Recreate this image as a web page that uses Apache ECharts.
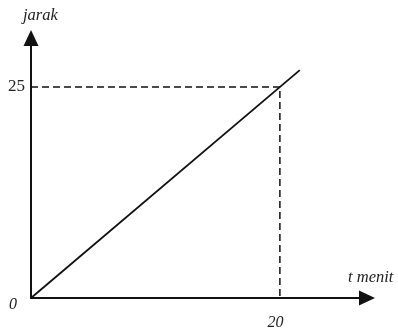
<!DOCTYPE html>
<html>
<head>
<meta charset="utf-8">
<script src="https://cdn.jsdelivr.net/npm/echarts@6/dist/echarts.min.js"></script>
<style>
  html, body { margin: 0; padding: 0; background: #fff; }
  #main { width: 398px; height: 331px; }
</style>
</head>
<body>
<div id="main"></div>
<script>
  // jarak vs waktu (t menit)
  var lineData = [[0, 0], [21.6, 27]];
  var guideData = [[0, 25], [20, 25], [20, 0]];
  var xTicks = [20];
  var yTicks = [0, 25];

  var myChart = echarts.init(document.getElementById('main'));
  var font = '"Liberation Serif", "DejaVu Serif", serif';

  var option = {
    animation: false,
    grid: { left: 31, right: 31, top: 38, bottom: 33 },
    xAxis: {
      type: 'value',
      min: 0,
      max: 27.0,
      name: 't menit',
      nameLocation: 'end',
      nameGap: -19,
      nameTextStyle: {
        fontFamily: font, fontStyle: 'italic', fontSize: 16.5, color: '#222',
        align: 'left', verticalAlign: 'bottom', padding: [0, 0, 12, 0]
      },
      splitLine: { show: false },
      axisTick: { show: false },
      axisLine: {
        symbol: ['none', 'triangle'],
        symbolSize: [15, 16],
        lineStyle: { color: '#111', width: 2 }
      },
      axisLabel: {
        customValues: xTicks,
        margin: 17,
        fontFamily: font, fontStyle: 'italic', fontSize: 16, color: '#222',
        padding: [0, 9, 0, 0]
      }
    },
    yAxis: {
      type: 'value',
      min: 0,
      max: 30.8,
      name: 'jarak',
      nameLocation: 'end',
      nameGap: 14,
      nameTextStyle: {
        fontFamily: font, fontStyle: 'italic', fontSize: 16.5, color: '#222',
        align: 'left', padding: [0, 0, 0, -8]
      },
      splitLine: { show: false },
      axisTick: { show: false },
      axisLine: {
        symbol: ['none', 'triangle'],
        symbolSize: [15, 16],
        lineStyle: { color: '#111', width: 2 }
      },
      axisLabel: {
        customValues: yTicks,
        margin: 6,
        fontFamily: font, fontSize: 17, color: '#222',
        formatter: function (v) {
          return v === 0 ? '{z|0}' : String(v);
        },
        rich: {
          z: { fontFamily: font, fontStyle: 'italic', fontSize: 16, color: '#222', padding: [14, 8, 0, 0] }
        }
      }
    },
    series: [
      {
        type: 'line',
        data: guideData,
        symbol: 'none',
        lineStyle: { color: '#111', width: 1.5, type: [7, 4] }
      },
      {
        type: 'line',
        data: lineData,
        symbol: 'none',
        lineStyle: { color: '#111', width: 1.8 }
      }
    ]
  };
  myChart.setOption(option);
</script>
</body>
</html>
